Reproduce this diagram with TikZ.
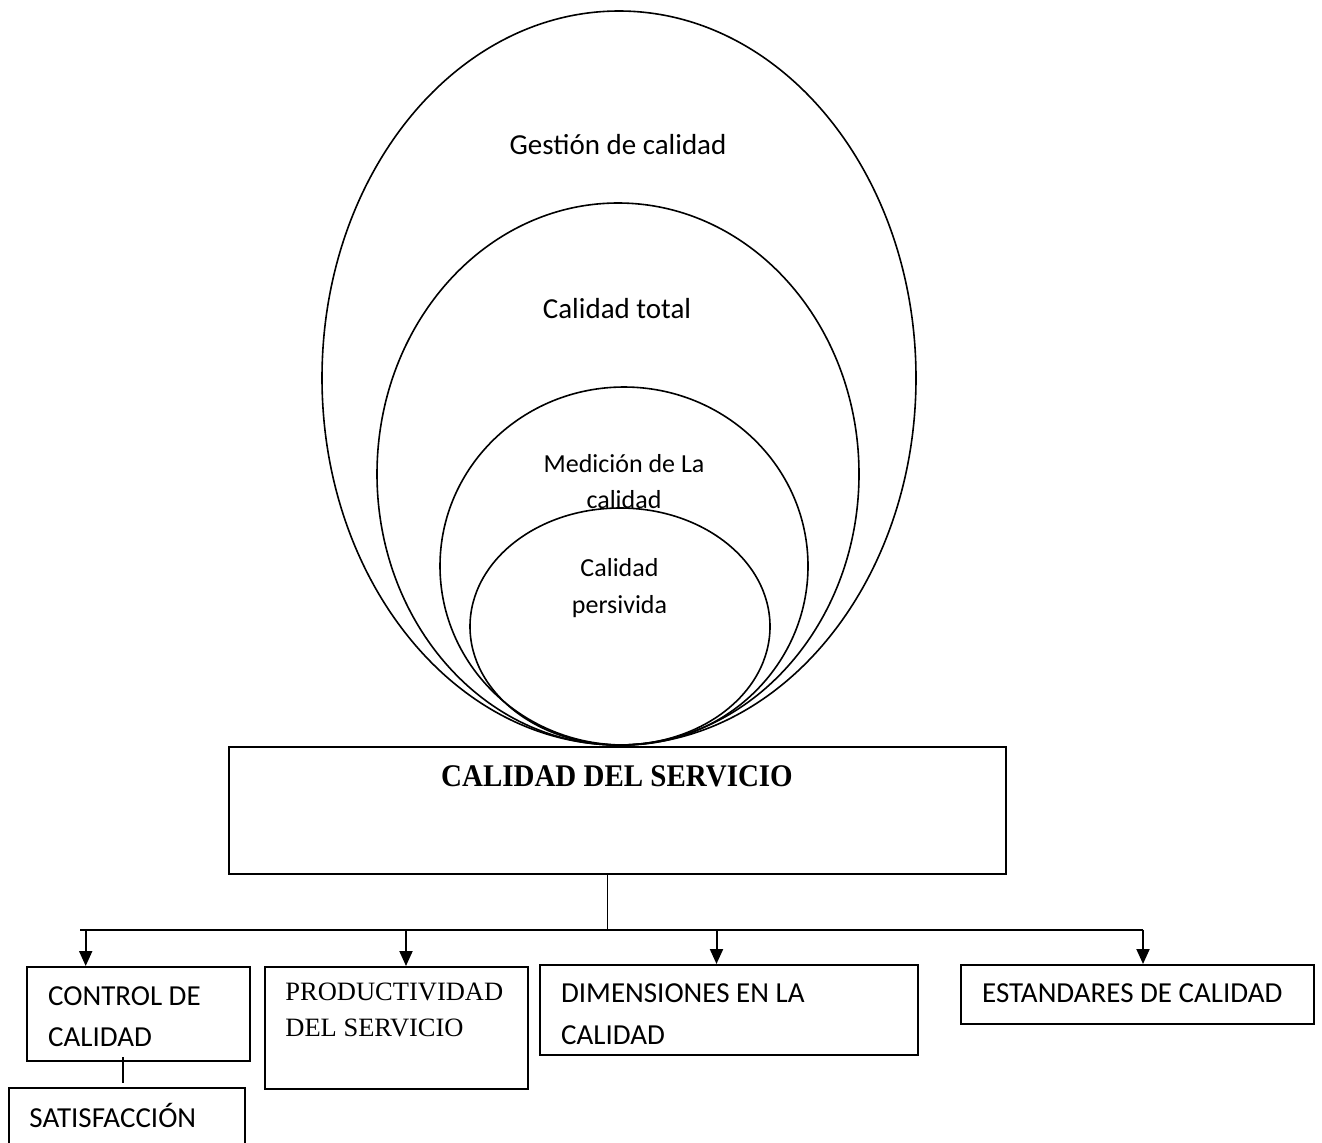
\documentclass[tikz,border=0pt]{standalone}
\usepackage{fontspec}
\setmainfont{Carlito}
\newfontfamily\serifface{Liberation Serif}
\newfontfamily\serifnarrow[FakeStretch=0.92]{Liberation Serif}
\usetikzlibrary{arrows.meta}
\begin{document}
\begin{tikzpicture}[x=0.5pt,y=-0.5pt,
  box/.style={draw, line width=1pt, inner sep=0pt, anchor=north west},
  ring/.style={line width=0.8pt},
  link/.style={line width=1pt},
  drop/.style={line width=1pt, -{Triangle[width=6.5pt,length=7.5pt]}},
  lbl/.style={inner sep=0pt, font=\fontsize{14.5pt}{17pt}\selectfont},
  lblsmall/.style={inner sep=0pt, font=\fontsize{13pt}{15pt}\selectfont},
  lblserif/.style={inner sep=0pt, font=\serifface\fontsize{13.25pt}{15pt}\selectfont},
  lbltitle/.style={inner sep=0pt, font=\serifnarrow\bfseries\fontsize{15.75pt}{18pt}\selectfont}]
\clip (0,0) rectangle (1322,1142);
\fill[white] (0,0) rectangle (1322,1142);

% nested quality levels, all touching the service box
\draw[ring] (619,378) ellipse [x radius=148.5pt, y radius=183.5pt];
\draw[ring] (618,474) ellipse [x radius=120.5pt, y radius=135.5pt];
\draw[ring] (624,566) ellipse [x radius=92pt, y radius=89.5pt];
\node[lbl, anchor=base] (tges) at (618,154) {Gestión de calidad};
\node[lbl, anchor=base] (ttot) at (617,318) {Calidad total};
\node[lblsmall, anchor=base] (tmed1) at (624,472) {Medición de La};
\node[lblsmall, anchor=base] (tmed2) at (624,508) {calidad};
\draw[ring] (620,626.5) ellipse [x radius=75pt, y radius=59.25pt];
\node[lblsmall, anchor=base] (tper1) at (619.5,576) {Calidad};
\node[lblsmall, anchor=base] (tper2) at (619.5,613) {persivida};

% main box
\node[box, minimum width=388.25pt, minimum height=63.5pt] (main) at (228,746) {};
\node[lbltitle, anchor=base] (tmain) at (617,786) {CALIDAD DEL SERVICIO};

% second-level boxes
\node[box, minimum width=111.25pt, minimum height=47pt] (ctrl) at (26,966) {};
\node[lbl, anchor=base west] at (47.7,1005) {CONTROL DE};
\node[lbl, anchor=base west] at (47.7,1046) {CALIDAD};

\node[box, minimum width=131.2pt, minimum height=61pt] (prod) at (264.3,966) {};
\node[lblserif, anchor=base west] at (285,1000.7) {PRODUCTIVIDAD};
\node[lblserif, anchor=base west] at (285,1036.7) {DEL SERVICIO};

\node[box, minimum width=188.85pt, minimum height=45pt] (dim) at (539,964) {};
\node[lbl, anchor=base west] at (560.7,1002) {DIMENSIONES EN LA};
\node[lbl, anchor=base west] at (560.7,1044) {CALIDAD};

\node[box, minimum width=176.5pt, minimum height=29.35pt] (est) at (960,964) {};
\node[lbl, anchor=base west] at (981.7,1002.3) {ESTANDARES DE CALIDAD};

\node[box, minimum width=118pt, minimum height=45pt] (sat) at (8,1087) {};
\node[lbl, anchor=base west] at (29,1127) {SATISFACCIÓN};

% connectors
\coordinate (trunk) at (607.5,929.5);
\coordinate (busL) at (80,929.5);
\coordinate (busR) at (1143,929.5);
\coordinate (d1) at (85.7,929.5);
\coordinate (d2) at (406,929.5);
\coordinate (d3) at (716.5,929.5);
\draw[link, line width=0.8pt] (main.south -| trunk) -- (trunk);
\draw[link] (busL) -- (busR);
\draw[drop] (d1) -- (d1 |- ctrl.north);
\draw[drop] (d2) -- (d2 |- prod.north);
\draw[drop] (d3) -- (d3 |- dim.north);
\draw[drop] (busR) -- (busR |- est.north);
\coordinate (s1) at (123,1057);
\coordinate (s2) at (123,1083);
\draw[link, line width=0.8pt] (s1) -- (s2);
\end{tikzpicture}
\end{document}
